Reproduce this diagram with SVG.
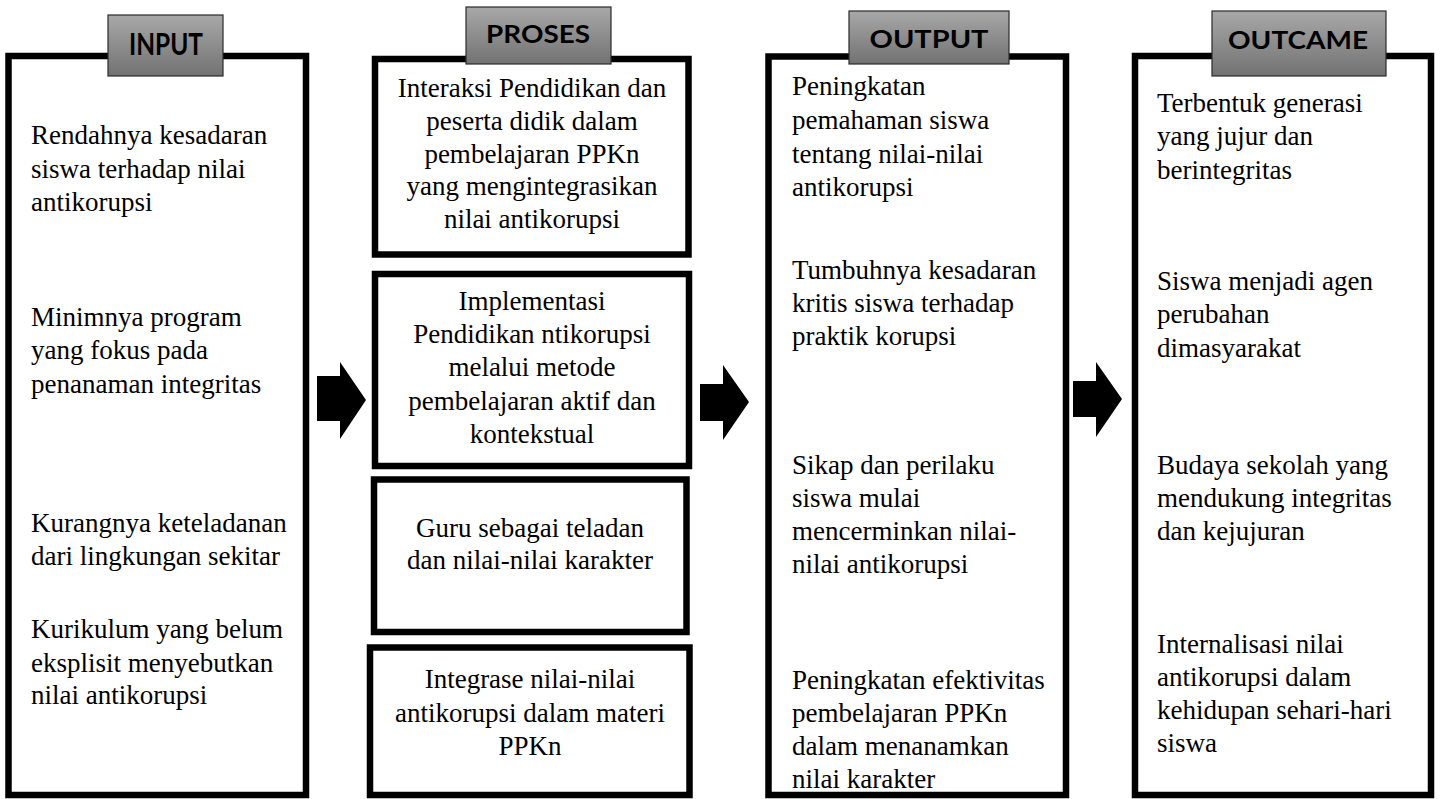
<svg xmlns="http://www.w3.org/2000/svg" width="1440" height="799" viewBox="0 0 1440 799">
<defs>
<linearGradient id="hdr" x1="0" y1="0" x2="0" y2="1">
<stop offset="0" stop-color="#a8a8a8"/>
<stop offset="1" stop-color="#727272"/>
</linearGradient>
<style>
.box{fill:#fff;stroke:#000;stroke-width:6.5}
.hbox{fill:url(#hdr);stroke:#2a2a2a;stroke-width:1.2}
.ht{font-family:Lato,"Open Sans","Liberation Sans",sans-serif;font-weight:bold;fill:#000;text-anchor:middle}
.t{font-family:"Liberation Serif","Times New Roman",serif;font-size:27px;fill:#000}
.c{text-anchor:middle}
.arr{fill:#000}
</style>
</defs>
<rect width="1440" height="799" fill="#fff"/>

<g id="input">
<rect class="box" x="8.5" y="56" width="297.5" height="739"/>
<rect class="hbox" x="108" y="15" width="115" height="61"/>
<text class="ht" x="166" y="55" font-size="30" textLength="74" lengthAdjust="spacingAndGlyphs">INPUT</text>
<text class="t" x="31"><tspan x="31" y="144">Rendahnya kesadaran</tspan><tspan x="31" y="178">siswa terhadap nilai</tspan><tspan x="31" y="211">antikorupsi</tspan></text>
<text class="t" x="31"><tspan x="31" y="326">Minimnya program</tspan><tspan x="31" y="359">yang fokus pada</tspan><tspan x="31" y="393">penanaman integritas</tspan></text>
<text class="t" x="31"><tspan x="31" y="532">Kurangnya keteladanan</tspan><tspan x="31" y="565">dari lingkungan sekitar</tspan></text>
<text class="t" x="31"><tspan x="31" y="638">Kurikulum yang belum</tspan><tspan x="31" y="672">eksplisit menyebutkan</tspan><tspan x="31" y="704">nilai antikorupsi</tspan></text>
</g>

<g id="proses-1">
<rect class="box" x="375" y="59" width="313.5" height="195.5"/>
<text class="t c"><tspan x="532" y="97">Interaksi Pendidikan dan</tspan><tspan x="532" y="130">peserta didik dalam</tspan><tspan x="532" y="163">pembelajaran PPKn</tspan><tspan x="532" y="195">yang mengintegrasikan</tspan><tspan x="532" y="228">nilai antikorupsi</tspan></text>
</g>
<g id="proses-2">
<rect class="box" x="375" y="274" width="314" height="192"/>
<text class="t c"><tspan x="532" y="310">Implementasi</tspan><tspan x="532" y="343">Pendidikan ntikorupsi</tspan><tspan x="532" y="376">melalui metode</tspan><tspan x="532" y="410">pembelajaran aktif dan</tspan><tspan x="532" y="443">kontekstual</tspan></text>
</g>
<g id="proses-3">
<rect class="box" x="374" y="479.5" width="312.5" height="152.5"/>
<text class="t c"><tspan x="530" y="537">Guru sebagai teladan</tspan><tspan x="530" y="569">dan nilai-nilai karakter</tspan></text>
</g>
<g id="proses-4">
<rect class="box" x="370" y="647.5" width="319.5" height="147.5"/>
<text class="t c"><tspan x="530" y="688">Integrase nilai-nilai</tspan><tspan x="530" y="722">antikorupsi dalam materi</tspan><tspan x="530" y="755">PPKn</tspan></text>
</g>
<g id="proses-header">
<rect class="hbox" x="466" y="7" width="145" height="57"/>
<text class="ht" x="538" y="43" font-size="25" textLength="104" lengthAdjust="spacingAndGlyphs">PROSES</text>
</g>

<g id="output">
<rect class="box" x="768.5" y="56.5" width="297.5" height="738.5"/>
<rect class="hbox" x="849" y="11" width="160" height="53"/>
<text class="ht" x="929" y="48" font-size="25" textLength="119" lengthAdjust="spacingAndGlyphs">OUTPUT</text>
<text class="t"><tspan x="792" y="95">Peningkatan</tspan><tspan x="792" y="129">pemahaman siswa</tspan><tspan x="792" y="163">tentang nilai-nilai</tspan><tspan x="792" y="196">antikorupsi</tspan></text>
<text class="t"><tspan x="792" y="279">Tumbuhnya kesadaran</tspan><tspan x="792" y="312">kritis siswa terhadap</tspan><tspan x="792" y="345">praktik korupsi</tspan></text>
<text class="t"><tspan x="792" y="474">Sikap dan perilaku</tspan><tspan x="792" y="507">siswa mulai</tspan><tspan x="792" y="540">mencerminkan nilai-</tspan><tspan x="792" y="573">nilai antikorupsi</tspan></text>
<text class="t"><tspan x="792" y="689">Peningkatan efektivitas</tspan><tspan x="792" y="722">pembelajaran PPKn</tspan><tspan x="792" y="755">dalam menanamkan</tspan><tspan x="792" y="788">nilai karakter</tspan></text>
</g>

<g id="outcame">
<rect class="box" x="1135" y="56" width="296" height="739"/>
<rect class="hbox" x="1212" y="11" width="174" height="65"/>
<text class="ht" x="1298" y="49" font-size="25" textLength="140" lengthAdjust="spacingAndGlyphs">OUTCAME</text>
<text class="t"><tspan x="1157" y="112">Terbentuk generasi</tspan><tspan x="1157" y="145">yang jujur dan</tspan><tspan x="1157" y="179">berintegritas</tspan></text>
<text class="t"><tspan x="1157" y="290">Siswa menjadi agen</tspan><tspan x="1157" y="323">perubahan</tspan><tspan x="1157" y="357">dimasyarakat</tspan></text>
<text class="t"><tspan x="1157" y="474">Budaya sekolah yang</tspan><tspan x="1157" y="507">mendukung integritas</tspan><tspan x="1157" y="540">dan kejujuran</tspan></text>
<text class="t"><tspan x="1157" y="653">Internalisasi nilai</tspan><tspan x="1157" y="686">antikorupsi dalam</tspan><tspan x="1157" y="719">kehidupan sehari-hari</tspan><tspan x="1157" y="752">siswa</tspan></text>
</g>

<g id="connectors">
<polygon class="arr" points="317,376 340,376 340,362 366,400 340,439 340,421 317,421"/>
<polygon class="arr" points="700,384 723,384 723,365 749,402 723,440 723,421 700,421"/>
<polygon class="arr" points="1073,381 1096,381 1096,362 1122,399 1096,437 1096,417 1073,417"/>
</g>
</svg>
